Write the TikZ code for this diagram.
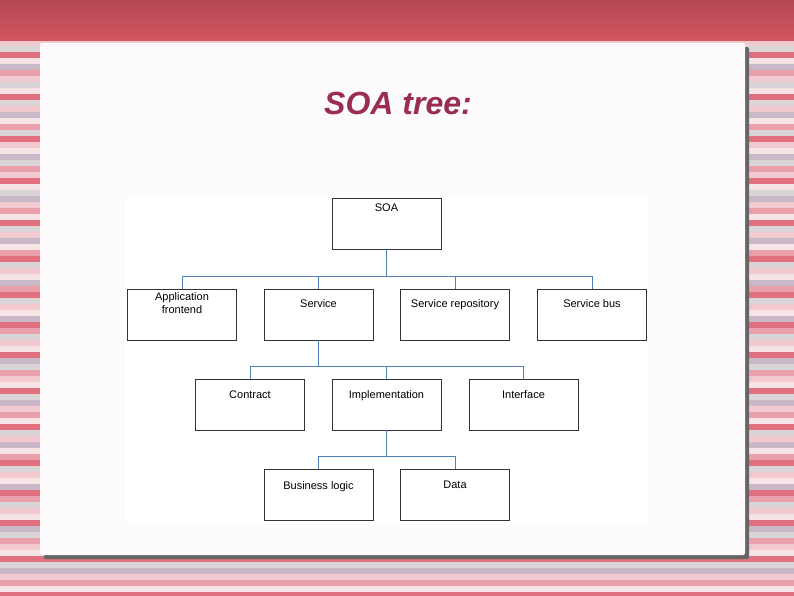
\documentclass[tikz,border=0pt]{standalone}
\usepackage{fontspec}
\setmainfont{Liberation Sans}
\usetikzlibrary{positioning}
\definecolor{slidered}{HTML}{D25560}
\definecolor{titlecol}{HTML}{9A2C55}
\definecolor{linkblue}{HTML}{4F7DB5}
\definecolor{stA}{HTML}{F2C9CF}
\definecolor{stB}{HTML}{E0707E}
\definecolor{stC}{HTML}{D9D4D6}
\definecolor{stD}{HTML}{F6E3E6}
\definecolor{stE}{HTML}{C9B8C8}
\definecolor{stF}{HTML}{EAA0AA}
\tikzset{
  soabox/.style={draw=black!80, line width=0.8pt, fill=white, minimum width=109pt, minimum height=51pt, inner sep=0pt},
  soatext/.style={font=\fontsize{11}{12.5}\selectfont, align=center, inner sep=0pt, anchor=north},
  branch/.style={draw=linkblue, line width=1pt}
}
\begin{document}
\begin{tikzpicture}[x=1pt, y=-1pt]
		\useasboundingbox (0,0) rectangle (794,595);
		% background stripes
		\foreach \y/\c in {40/stA,46/stC,52/stB,58/stD,64/stE,70/stF,76/stA,82/stC,88/stD,94/stB,100/stC,106/stA,112/stE,118/stD,124/stF,130/stC,136/stB,142/stA,148/stD,154/stE,160/stC,166/stF,172/stA,178/stB,184/stD,190/stC,196/stE,202/stA,208/stF,214/stD,220/stB,226/stC,232/stA,238/stE,244/stD,250/stF,256/stB,262/stC,268/stA,274/stD,280/stE,286/stF,292/stB,298/stC,304/stA,310/stD,316/stE,322/stB,328/stF,334/stC,340/stA,346/stD,352/stB,358/stE,364/stC,370/stF,376/stA,382/stD,388/stB,394/stC,400/stE,406/stA,412/stF,418/stD,424/stB,430/stC,436/stA,442/stE,448/stD,454/stF,460/stB,466/stC,472/stA,478/stD,484/stE,490/stB,496/stF,502/stC,508/stA,514/stD,520/stB,526/stE,532/stC,538/stF,544/stA,550/stD,556/stB,562/stC,568/stE,574/stA,580/stF,586/stD,592/stB}
			\fill[\c] (0,\y) rectangle (794,\y+6);
		\shade[top color=slidered!85!black, bottom color=slidered] (0,0) rectangle (794,40);
		% slide panel
		\fill[black!60, rounded corners=2pt] (44,47) rectangle (749,559);
		\fill[white!93!stA, rounded corners=2pt] (40,43) rectangle (745,555);
		\fill[white] (126,197) rectangle (648,522);
		\node[font=\bfseries\itshape\fontsize{32}{36}\selectfont, text=titlecol] (title) at (398,103) {SOA tree:};

		% boxes
		\node[soabox] (soa) at (386.5,223.5) {};
		\node[soabox] (app) at (182,314.5) {};
		\node[soabox] (svc) at (318.5,314.5) {};
		\node[soabox] (repo) at (455,314.5) {};
		\node[soabox] (bus) at (592,314.5) {};
		\node[soabox] (contract) at (250,404.5) {};
		\node[soabox] (impl) at (386.5,404.5) {};
		\node[soabox] (iface) at (523.5,404.5) {};
		\node[soabox] (logic) at (318.5,495) {};
		\node[soabox] (data) at (455,495) {};

		\node[soatext] at ([yshift=-6pt]soa.north) {SOA};
		\node[soatext] at ([yshift=-4pt]app.north) {Application\\frontend};
		\node[soatext] at ([yshift=-11pt]svc.north) {Service};
		\node[soatext] at ([yshift=-11pt]repo.north) {Service repository};
		\node[soatext] at ([yshift=-11pt]bus.north) {Service bus};
		\node[soatext] at ([yshift=-12pt]contract.north) {Contract};
		\node[soatext] at ([yshift=-12pt]impl.north) {Implementation};
		\node[soatext] at ([yshift=-12pt]iface.north) {Interface};
		\node[soatext] at ([yshift=-12pt]logic.north) {Business logic};
		\node[soatext] at ([yshift=-12pt]data.north) {Data};

		% connectors
		\coordinate (j1) at (386.5,276);
		\coordinate (j2) at (318.5,366);
		\coordinate (j3) at (386.5,456);
		\draw[branch] (soa.south) -- (j1);
		\foreach \n in {app,svc,repo,bus}
			\draw[branch] (j1) -| (\n.north);
		\draw[branch] (svc.south) -- (j2);
		\foreach \n in {contract,impl,iface}
			\draw[branch] (j2) -| (\n.north);
		\draw[branch] (impl.south) -- (j3);
		\foreach \n in {logic,data}
			\draw[branch] (j3) -| (\n.north);
	\end{tikzpicture}
\end{document}
